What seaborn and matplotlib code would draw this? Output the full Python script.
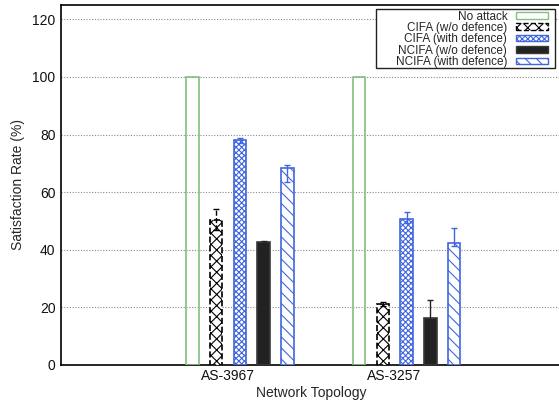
import matplotlib
matplotlib.use("Agg")
import matplotlib.pyplot as plt
import seaborn as sns
import pandas as pd
import numpy as np
from matplotlib.patches import Patch, Rectangle
from matplotlib.container import BarContainer

# ---- data ----
topologies = ["AS-3967", "AS-3257"]
schemes = ["No attack", "CIFA (w/o defence)", "CIFA (with defence)",
           "NCIFA (w/o defence)", "NCIFA (with defence)"]
no_attack = [100, 100]
cifa_wo = [50.5, 21.3]
cifa_with = [78.0, 50.8]
ncifa_wo = [42.6, 16.2]
ncifa_with = [68.3, 42.2]
# error bar ranges (low, high); None = no error bar
cifa_wo_lo, cifa_wo_hi = [47.0, 20.6], [54.0, 22.0]
cifa_with_lo, cifa_with_hi = [77.2, 49.3], [78.7, 53.0]
ncifa_wo_lo, ncifa_wo_hi = [42.0, 9.7], [43.2, 22.7]
ncifa_with_lo, ncifa_with_hi = [63.5, 41.3], [69.6, 47.7]
yticks = [0, 20, 40, 60, 80, 100, 120]

values = [no_attack, cifa_wo, cifa_with, ncifa_wo, ncifa_with]
err_lo = [None, cifa_wo_lo, cifa_with_lo, ncifa_wo_lo, ncifa_with_lo]
err_hi = [None, cifa_wo_hi, cifa_with_hi, ncifa_wo_hi, ncifa_with_hi]

rows = []
for s, vals in zip(schemes, values):
    for t, v in zip(topologies, vals):
        rows.append({"topology": t, "scheme": s, "value": v})
df = pd.DataFrame(rows)

blue = "#3f66e0"
green = "#80c080"
styles = [
    dict(facecolor="none", edgecolor=green, hatch=None, linestyle="-", ecolor=green),
    dict(facecolor="white", edgecolor="black", hatch="xxx", linestyle="--", ecolor="black"),
    dict(facecolor="white", edgecolor=blue, hatch="xxxxxx", linestyle="-", ecolor=blue),
    dict(facecolor="#222222", edgecolor="#3a3a3a", hatch=None, linestyle="-", ecolor="#222222"),
    dict(facecolor="white", edgecolor=blue, hatch="\\\\\\", linestyle="-", ecolor=blue),
]

sns.set_theme(style="white")
plt.rcParams["font.family"] = ["Liberation Sans", "DejaVu Sans"]
plt.rcParams["hatch.linewidth"] = 0.8

W, H = 559, 407
fig = plt.figure(figsize=(W / 100, H / 100), dpi=100)
ax_l, ax_r, ax_t, ax_b = 61, 561, 5, 365
ax = fig.add_axes([ax_l / W, 1 - ax_b / H, (ax_r - ax_l) / W, (ax_b - ax_t) / H])

sns.barplot(data=df, x="topology", y="value", hue="scheme", hue_order=schemes,
            order=topologies, width=0.7125, gap=0.47, errorbar=None,
            legend=False, ax=ax, palette=["white"] * 5)

bar_conts = [c for c in ax.containers if isinstance(c, BarContainer)]
for i, cont in enumerate(bar_conts):
    st = styles[i]
    for j, bar in enumerate(cont.patches):
        bar.set_facecolor(st["facecolor"])
        bar.set_edgecolor(st["edgecolor"])
        bar.set_hatch(st["hatch"])
        bar.set_linestyle(st["linestyle"])
        bar.set_linewidth(1.2)
        bar.set_zorder(3)
        if err_lo[i] is not None:
            cx = bar.get_x() + bar.get_width() / 2
            v = values[i][j]
            lo, hi = err_lo[i][j], err_hi[i][j]
            eb = ax.errorbar([cx], [v], yerr=[[v - lo], [hi - v]], fmt="none",
                             ecolor=st["ecolor"], elinewidth=1.0, capsize=2.2,
                             capthick=1.0, zorder=4)
            if st["linestyle"] == "--":
                for lc in eb[2]:
                    lc.set_linestyle("--")

px_per_unit = 166.7
x_left = -1.073
ax.set_ylim(0, 125)
ax.set_yticks(yticks)
ax.set_xlim(x_left, x_left + (ax_r - ax_l) / px_per_unit)
ax.set_xticks([-0.073, 0.927])
ax.set_xticklabels(topologies)
ax.set_xlabel("Network Topology", fontsize=10, labelpad=2)
ax.set_ylabel("Satisfaction Rate (%)", fontsize=10, labelpad=5)
ax.tick_params(axis="both", labelsize=10, direction="in", length=4, width=0.8,
               colors="black", pad=4)
ax.tick_params(axis="x", length=0, pad=3)
for t in ax.get_xticklabels() + ax.get_yticklabels():
    t.set_color("#111111")

for y in yticks:
    ax.axhline(y, color="#888888", linestyle=(0, (1, 1.5)), linewidth=0.8, zorder=1)

for side in ["top", "bottom", "left"]:
    ax.spines[side].set_color("black")
    ax.spines[side].set_linewidth(1.2)
ax.spines["right"].set_visible(False)


def ax_frac(px, py):
    return ((px - ax_l) / (ax_r - ax_l), (ax_b - py) / (ax_b - ax_t))


# legend frame (gnuplot-style key box)
bx0, by0 = ax_frac(375.5, 67.7)
bx1, by1 = ax_frac(554.5, 9.0)
frame = Rectangle((bx0, by0), bx1 - bx0, by1 - by0, transform=ax.transAxes,
                  facecolor="white", edgecolor="#222222", linewidth=1.0,
                  zorder=4.5, clip_on=False)
ax.add_patch(frame)

handles = []
for s, st in zip(schemes, styles):
    handles.append(Patch(facecolor=st["facecolor"], edgecolor=st["edgecolor"],
                         hatch=st["hatch"], linestyle=st["linestyle"],
                         linewidth=1.0, label=s))
anchor = ax_frac(548.5, 10.5)
leg = ax.legend(handles=handles, loc="upper right", bbox_to_anchor=anchor,
                markerfirst=False, fontsize=8.5, frameon=False,
                handlelength=2.74, handleheight=0.5, labelspacing=-0.05,
                borderpad=0.0, handletextpad=0.75, borderaxespad=0.0)
leg.set_zorder(5)
for t in leg.get_texts():
    t.set_ha("right")

fig.savefig("out.png", dpi=100)
